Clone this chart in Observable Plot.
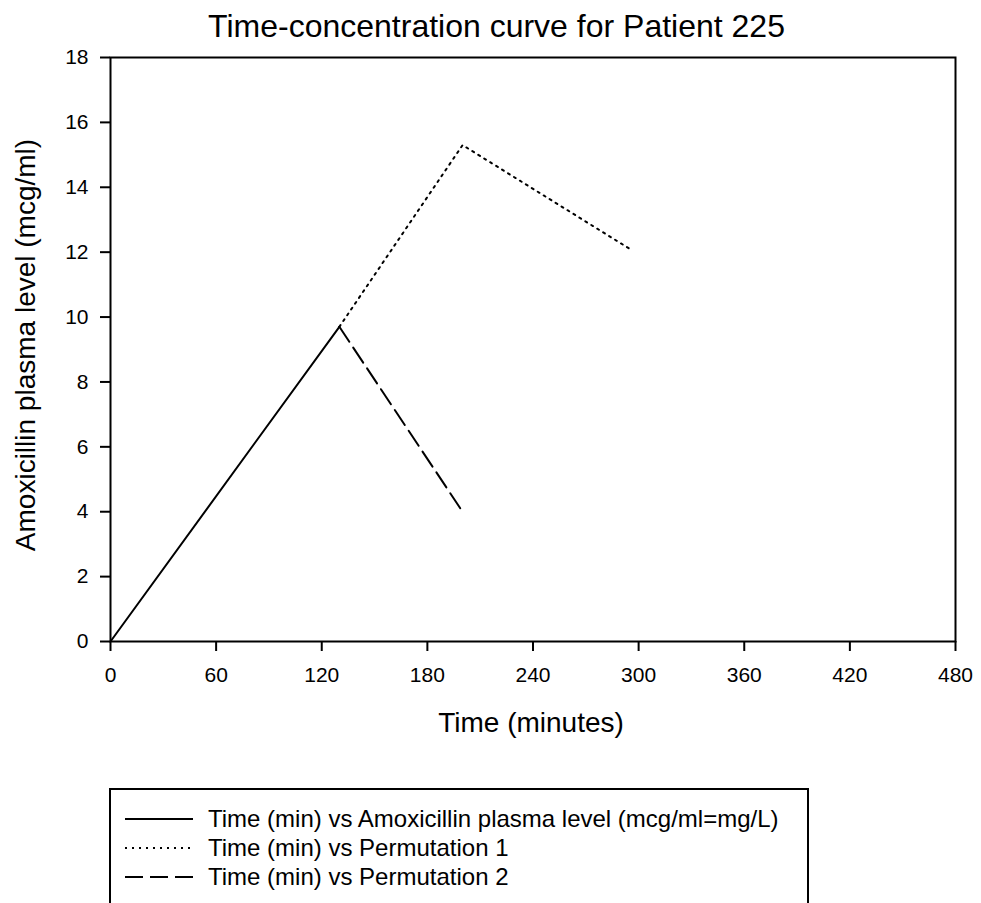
<!DOCTYPE html>
<html><head><meta charset="utf-8">
<script src="https://cdn.jsdelivr.net/npm/d3@7"></script>
<script src="https://cdn.jsdelivr.net/npm/@observablehq/plot@0.6"></script>
<style>
body{margin:0;background:#fff;overflow:hidden;font-family:"Liberation Sans",Arial,sans-serif;color:#000;}
#wrap{position:relative;width:981px;height:903px;overflow:hidden;}
#chart{position:absolute;left:0;top:0;}
.t{position:absolute;white-space:nowrap;line-height:1;}
#title{left:0;width:993px;top:10px;text-align:center;font-size:32px;}
#xlab{left:0;width:1062px;top:709px;text-align:center;font-size:28px;}
#ylab{left:26px;top:345px;font-size:28px;transform:translate(-50%,-50%) rotate(-90deg);}
#legend{position:absolute;left:109px;top:788px;width:700px;height:140px;border:2px solid #000;box-sizing:border-box;}
.row{position:absolute;left:14px;height:28px;font-size:24px;display:flex;align-items:center;line-height:1;}
.row svg{margin-right:15px;}
</style></head><body>
<div id="wrap">
<div id="chart"></div>
<div class="t" id="title"></div>
<div class="t" id="xlab"></div>
<div class="t" id="ylab"></div>
<div id="legend"></div>
</div>
<script>
const chartTitle = "Time-concentration curve for Patient 225";
const xTitle = "Time (minutes)";
const yTitle = "Amoxicillin plasma level (mcg/ml)";
const seriesNames = [
  "Time (min) vs Amoxicillin plasma level (mcg/ml=mg/L)",
  "Time (min) vs Permutation 1",
  "Time (min) vs Permutation 2"
];
const timeMeasured = [0, 130];
const levelMeasured = [0, 9.7];
const timePerm1 = [130, 200, 295];
const levelPerm1 = [9.7, 15.3, 12.1];
const timePerm2 = [130, 200];
const levelPerm2 = [9.7, 4.0];
const xTicks = [0, 60, 120, 180, 240, 300, 360, 420, 480];
const yTicks = [0, 2, 4, 6, 8, 10, 12, 14, 16, 18];
const dashes = [null, "2,5", "18,7"];

const toRows = (xs, ys) => xs.map((x, i) => ({x, y: ys[i]}));
const d0 = toRows(timeMeasured, levelMeasured);
const d1 = toRows(timePerm1, levelPerm1);
const d2 = toRows(timePerm2, levelPerm2);

document.getElementById("title").textContent = chartTitle;
document.getElementById("xlab").textContent = xTitle;
document.getElementById("ylab").textContent = yTitle;

const chart = Plot.plot({
  width: 981,
  height: 760,
  marginLeft: 110,
  marginRight: 26,
  marginTop: 57,
  marginBottom: 119,
  style: {fontFamily: '"Liberation Sans", Arial, sans-serif', fontSize: "21px", background: "#fff", color: "#000", overflow: "visible"},
  x: {domain: [0, 480]},
  y: {domain: [0, 18]},
  marks: [
    Plot.frame({stroke: "#000", strokeWidth: 2}),
    Plot.axisX({ticks: xTicks, tickSize: 10, tickPadding: 16, fontSize: 21, stroke: "#000", strokeWidth: 2, label: null, tickFormat: d => String(d)}),
    Plot.axisY({ticks: yTicks, tickSize: 10, tickPadding: 12, fontSize: 21, stroke: "#000", strokeWidth: 2, label: null, tickFormat: d => String(d)}),
    Plot.line(d0, {x: "x", y: "y", stroke: "#000", strokeWidth: 2}),
    Plot.line(d1, {x: "x", y: "y", stroke: "#000", strokeWidth: 2, strokeDasharray: dashes[1]}),
    Plot.line(d2, {x: "x", y: "y", stroke: "#000", strokeWidth: 2, strokeDasharray: dashes[2]})
  ]
});
document.getElementById("chart").appendChild(chart);

const legend = document.getElementById("legend");
seriesNames.forEach((name, i) => {
  const row = document.createElement("div");
  row.className = "row";
  row.style.top = (15 + i * 29) + "px";
  const ns = "http://www.w3.org/2000/svg";
  const svg = document.createElementNS(ns, "svg");
  svg.setAttribute("width", 68);
  svg.setAttribute("height", 10);
  const ln = document.createElementNS(ns, "line");
  ln.setAttribute("x1", 0); ln.setAttribute("x2", 68);
  ln.setAttribute("y1", 5); ln.setAttribute("y2", 5);
  ln.setAttribute("stroke", "#000");
  ln.setAttribute("stroke-width", 2);
  if (dashes[i]) ln.setAttribute("stroke-dasharray", dashes[i]);
  svg.appendChild(ln);
  row.appendChild(svg);
  const sp = document.createElement("span");
  sp.textContent = name;
  row.appendChild(sp);
  legend.appendChild(row);
});
</script>
</body></html>
